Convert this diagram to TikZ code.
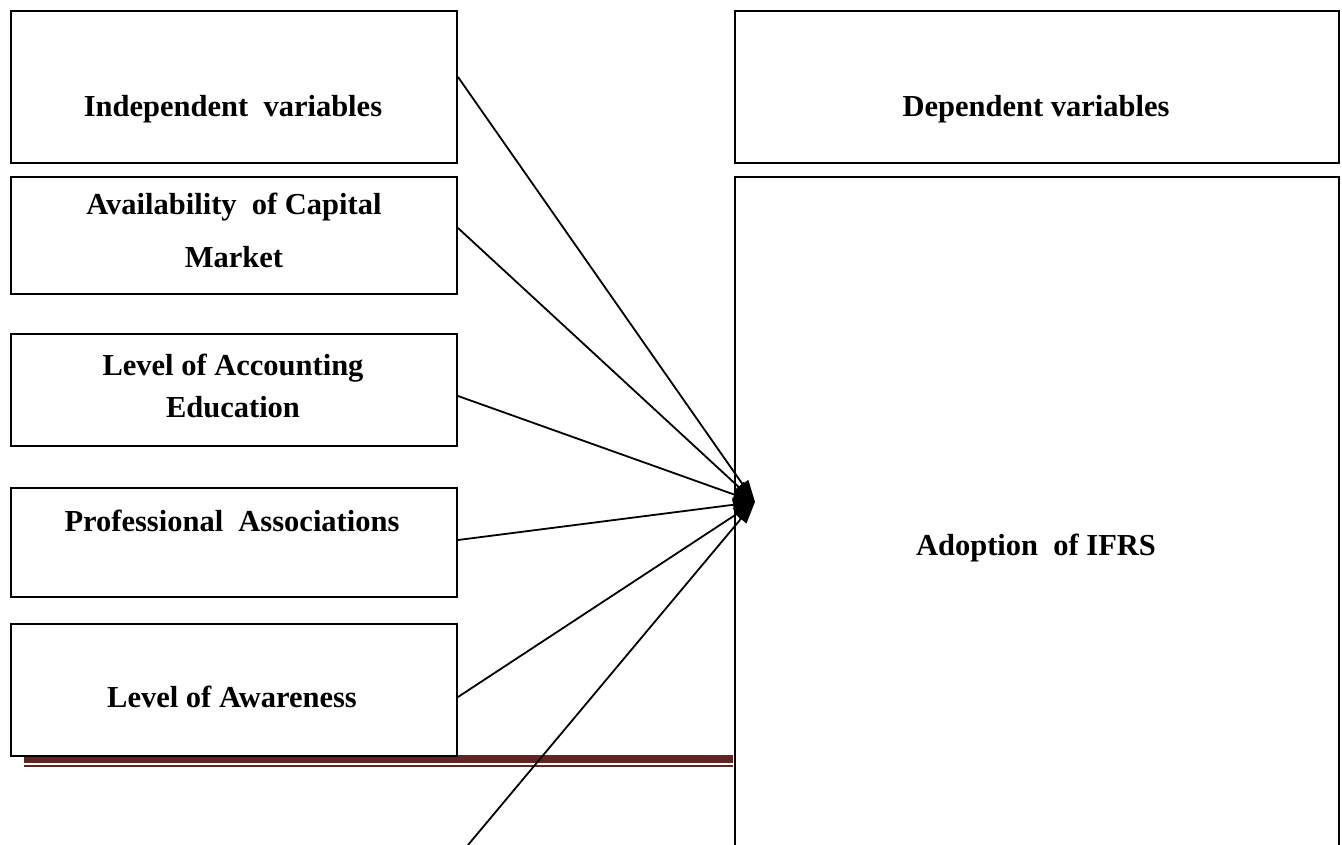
\documentclass[tikz,border=0pt]{standalone}
\usepackage{fontspec}
\setmainfont{Liberation Serif}
\usetikzlibrary{arrows.meta}
\definecolor{rulered}{HTML}{622423}
\tikzset{
  box/.style={draw=black, line width=2pt, rectangle, inner sep=0pt, anchor=north west},
  lbl/.style={font=\fontsize{30.5}{36}\selectfont\bfseries, anchor=base, inner sep=0pt},
  conn/.style={line width=1.8pt, -{Triangle[length=22pt,width=14pt]}},
}
\begin{document}
\begin{tikzpicture}[x=1pt,y=-1pt]
\clip (0,0) rectangle (1342,845);
\fill[white] (0,0) rectangle (1342,845);
% red rules
\fill[rulered] (24,755) rectangle (733,763);
\fill[rulered] (24,765) rectangle (733,767);
% left boxes
\node[box, minimum width=446pt, minimum height=152pt] (b1) at (10,10) {};
\node[box, minimum width=446pt, minimum height=117pt] (b2) at (10,176) {};
\node[box, minimum width=446pt, minimum height=112pt] (b3) at (10,333) {};
\node[box, minimum width=446pt, minimum height=109pt] (b4) at (10,487) {};
\node[box, minimum width=446pt, minimum height=132pt] (b5) at (10,623) {};
% right boxes
\node[box, minimum width=604pt, minimum height=152pt] (dep) at (734,10) {};
\node[box, minimum width=604pt, minimum height=720pt] (ifrs) at (734,176) {};
% labels
\node[lbl] (t1) at (233,117) {Independent\ \ variables};
\node[lbl] (t2a) at (234,215) {Availability\ \ of Capital};
\node[lbl] (t2b) at (234,268) {Market};
\node[lbl] (t3a) at (233,375) {Level of Accounting};
\node[lbl] (t3b) at (233,417) {Education};
\node[lbl] (t4) at (232,531) {Professional\ \ Associations};
\node[lbl] (t5) at (232,707) {Level of Awareness};
\node[lbl] (td) at (1036,117) {Dependent variables};
\node[lbl] (ti) at (1036,555) {Adoption\ \ of IFRS};
% connectors
\coordinate (tip) at (755,502);
\coordinate (low) at (468,845);
\draw[conn] ([yshift=-67pt]b1.north east) -- (tip);
\draw[conn] ([yshift=-52pt]b2.north east) -- (tip);
\draw[conn] ([yshift=-63pt]b3.north east) -- (tip);
\draw[conn] ([yshift=-53pt]b4.north east) -- (tip);
\draw[conn] ([yshift=-74pt]b5.north east) -- (tip);
\draw[conn] (low) -- (tip);
\end{tikzpicture}
\end{document}
